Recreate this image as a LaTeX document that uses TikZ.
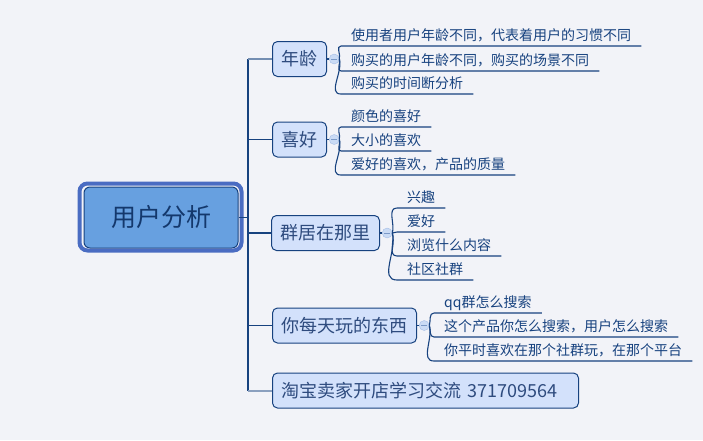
\documentclass[tikz,border=0pt]{standalone}
\usepackage{fontspec}
\setmainfont{Noto Sans CJK SC}
\usetikzlibrary{positioning}

\definecolor{bgpaper}{HTML}{F2F3F8}
\definecolor{navy}{HTML}{17427F}
\definecolor{topicfill}{HTML}{D3E1FB}
\definecolor{topictext}{HTML}{2E4B7E}
\definecolor{rootfill}{HTML}{67A0E0}
\definecolor{rootring}{HTML}{4A6CC2}
\definecolor{knobfill}{HTML}{CADBF5}
\definecolor{knobline}{HTML}{A6BEE6}

\begin{document}
\begin{tikzpicture}[x = 1pt, y = 1pt,
		wire/.style = {draw = navy, line width = 1.1pt},
		root/.style = {draw = navy, line width = 1pt, fill = rootfill, rounded corners = 6pt, minimum width = 154pt, minimum height = 61pt, font = \fontsize{25}{30}\selectfont, text = navy!85!black},
		topic/.style = {draw = navy, line width = 1pt, fill = topicfill, rounded corners = 5pt, anchor = west, minimum height = 35pt, inner xsep = 9pt, font = \fontsize{18}{22}\selectfont, text = topictext},
		leaf/.style = {anchor = south west, inner xsep = 10pt, inner ysep = 3pt, text height = 11pt, text depth = 2pt, font = \fontsize{14}{17}\selectfont, text = navy},
		knob/.style = {circle, draw = knobline, fill = knobfill, minimum size = 10pt, inner sep = 0pt, right = 2pt of #1,
			path picture = {\draw[knobline!70!navy] ([xshift = -3pt]path picture bounding box.center) -- ([xshift = 3pt]path picture bounding box.center);}},
		rise/.style = {out = 75, in = 180},
		fall/.style = {out = -75, in = 180}]
			\fill[bgpaper] (0,0) rectangle (703,-440);
			\useasboundingbox (0,0) rectangle (703,-440);
			% centre
			\node[root] (root) at (161,-217.5) {用户分析};
			\draw[draw = rootring, line width = 4pt, rounded corners = 8pt] ([shift = {(-4pt,-2pt)}]root.south west) rectangle ([shift = {(3pt,3pt)}]root.north east);
			\coordinate (fork) at (248,-217.5);
			% main topics
			\node[topic] (nianling) at (272,-59) {年龄};
			\node[topic] (xihao) at (272,-139.5) {喜好};
			\node[topic] (qunju) at (271,-233) {群居在那里};
			\node[topic] (wanshenme) at (272,-325.5) {你每天玩的东西};
			\node[topic, text width = 288pt] (taobao) at (272,-390.5) {淘宝卖家开店学习交流 371709564};
			\draw[wire] (root.east) -- (fork);
			\draw[wire] (fork |- nianling.west) -- (fork |- taobao.west);
			\draw[wire, draw = navy!60] (fork |- nianling.west) -- (nianling.west);
			\draw[wire] (fork |- xihao.west) -- (xihao.west);
			\draw[wire] (fork |- qunju.west) -- (qunju.west);
			\draw[wire] (fork |- wanshenme.west) -- (wanshenme.west);
			\draw[wire, draw = navy!50, line width = 2pt] (fork |- taobao.west) -- (taobao.west);
			% fold knobs
			\node[knob = nianling] (nianling-k) {};
			\node[knob = xihao] (xihao-k) {};
			\node[knob = qunju] (qunju-k) {};
			\node[knob = wanshenme] (wanshenme-k) {};
			\draw[wire] (nianling.east) -- (nianling-k.west);
			\draw[wire] (xihao.east) -- (xihao-k.west);
			\draw[wire] (qunju.east) -- (qunju-k.west);
			\draw[wire] (wanshenme.east) -- (wanshenme-k.west);
			% 年龄
			\node[leaf] (a1) at (341,-46) {使用者用户年龄不同，代表着用户的习惯不同};
			\node[leaf] (a2) at (341,-71) {购买的用户年龄不同，购买的场景不同};
			\node[leaf] (a3) at (341,-94) {购买的时间断分析};
			\draw[wire] (nianling-k.east) to[rise] (a1.south west) -- (a1.south east);
			\draw[wire] (nianling-k.east) to[fall] (a2.south west) -- (a2.south east);
			\draw[wire] (nianling-k.east) to[fall] (a3.south west) -- (a3.south east);
			% 喜好
			\node[leaf] (b1) at (341,-127) {颜色的喜好};
			\node[leaf] (b2) at (341,-151) {大小的喜欢};
			\node[leaf] (b3) at (341,-175) {爱好的喜欢，产品的质量};
			\draw[wire] (xihao-k.east) to[rise] (b1.south west) -- (b1.south east);
			\draw[wire] (xihao-k.east) to[fall] (b2.south west) -- (b2.south east);
			\draw[wire] (xihao-k.east) to[fall] (b3.south west) -- (b3.south east);
			% 群居在那里
			\node[leaf] (c1) at (397,-208) {兴趣};
			\node[leaf] (c2) at (397,-232) {爱好};
			\node[leaf] (c3) at (397,-256) {浏览什么内容};
			\node[leaf] (c4) at (397,-280) {社区社群};
			\draw[wire] (qunju-k.east) to[rise] (c1.south west) -- (c1.south east);
			\draw[wire] (qunju-k.east) -- (c2.south west) -- (c2.south east);
			\draw[wire] (qunju-k.east) to[fall] (c3.south west) -- (c3.south east);
			\draw[wire] (qunju-k.east) to[fall] (c4.south west) -- (c4.south east);
			% 你每天玩的东西
			\node[leaf] (d1) at (434,-313) {qq群怎么搜索};
			\node[leaf] (d2) at (434,-337) {这个产品你怎么搜索，用户怎么搜索};
			\node[leaf] (d3) at (434,-361) {你平时喜欢在那个社群玩，在那个平台};
			\draw[wire] (wanshenme-k.east) to[rise] (d1.south west) -- (d1.south east);
			\draw[wire] (wanshenme-k.east) to[fall] (d2.south west) -- (d2.south east);
			\draw[wire] (wanshenme-k.east) to[fall] (d3.south west) -- (d3.south east);
		\end{tikzpicture}
\end{document}
